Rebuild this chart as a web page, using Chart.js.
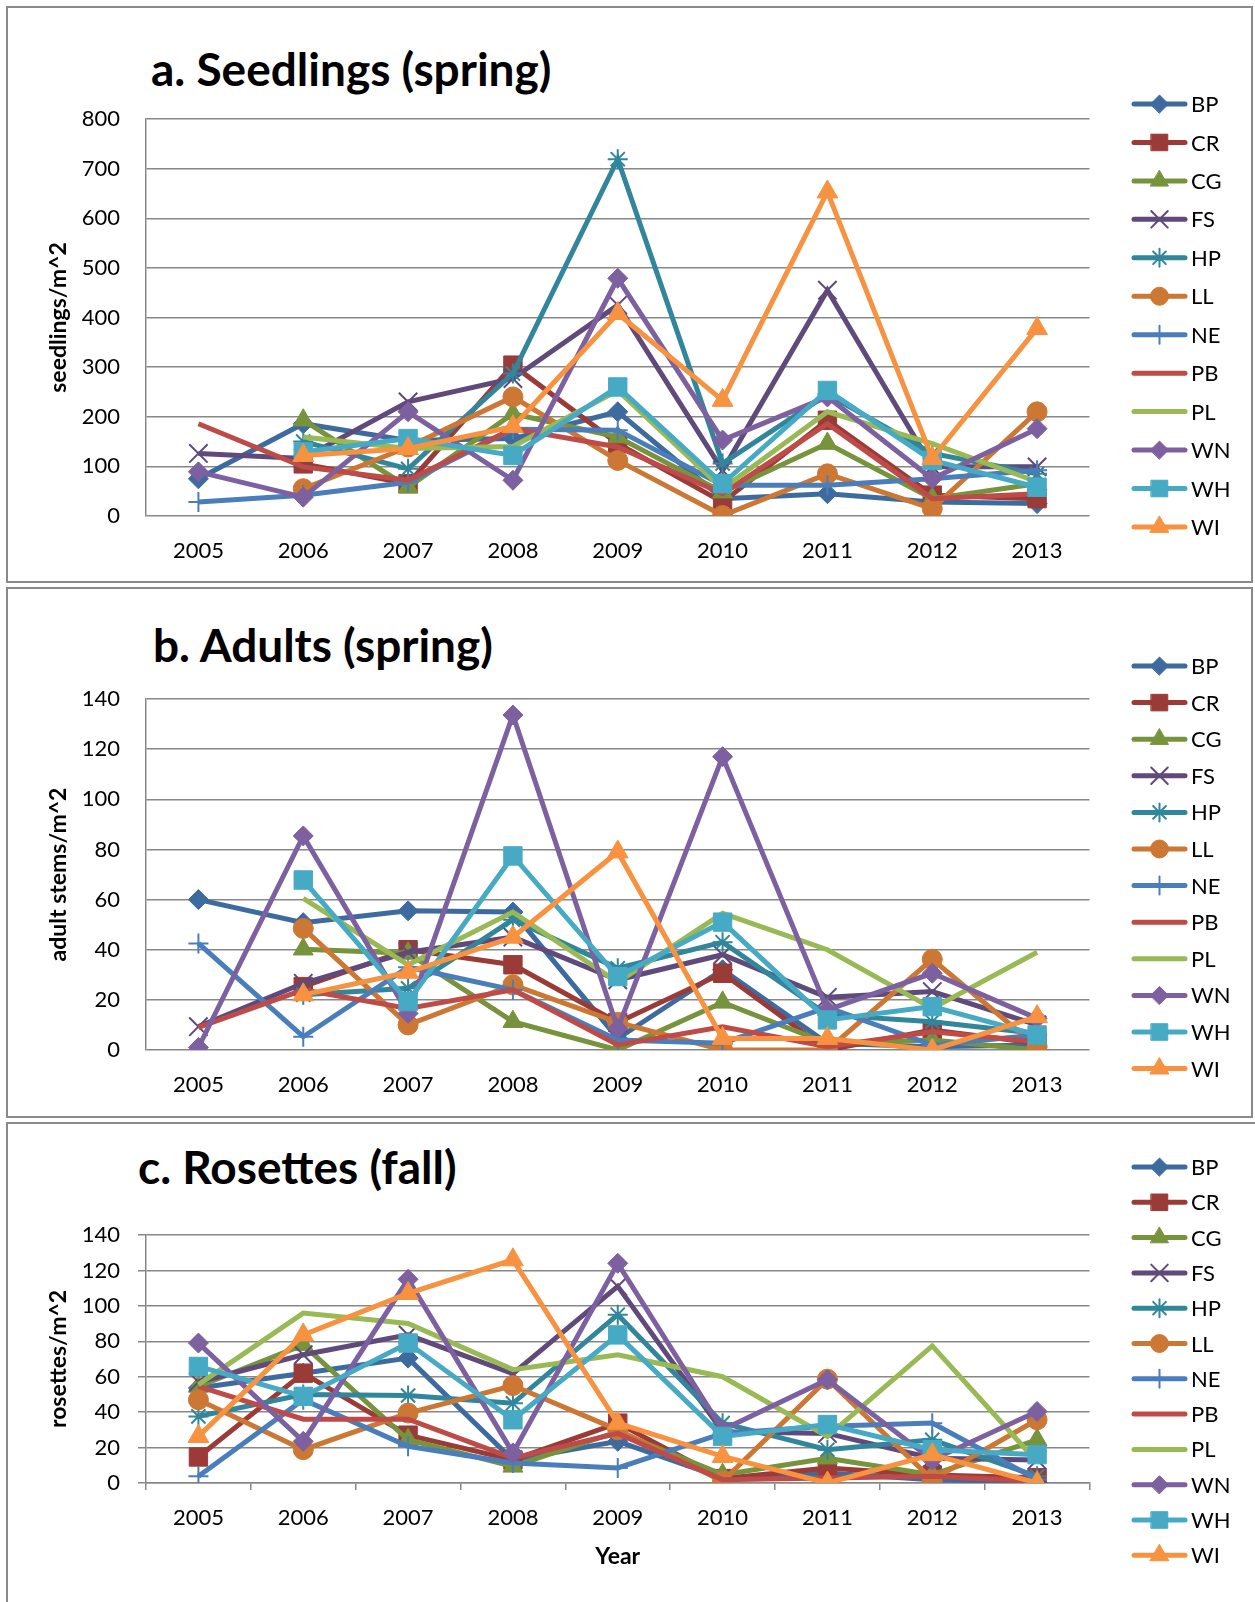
<!DOCTYPE html>
<html>
<head>
<meta charset="utf-8">
<script src="https://cdn.jsdelivr.net/npm/chart.js@4.4.1/dist/chart.umd.min.js"></script>
<style>
  html, body { margin: 0; padding: 0; background: #fff; }
  body { width: 1255px; height: 1602px; position: relative; overflow: hidden; font-family: Lato, "Open Sans", sans-serif; }
  .frame { position: absolute; border: 2px solid #8a8a8a; box-sizing: border-box; }
  .heading { position: absolute; margin: 0; font: 700 46px/46px Lato, sans-serif; color: #000; white-space: nowrap; }
  canvas { position: absolute; left: 0; }
</style>
</head>
<body>
<div class="frame" style="left:6px;top:6px;width:1247px;height:577px"></div>
<div class="frame" style="left:6px;top:587px;width:1247px;height:531px"></div>
<div class="frame" style="left:6px;top:1122px;width:1300px;height:600px"></div>

<h2 class="heading" style="left:151px;top:46px">a. Seedlings (spring)</h2>
<h2 class="heading" style="left:153px;top:622px">b. Adults (spring)</h2>
<h2 class="heading" style="left:138px;top:1144px">c. Rosettes (fall)</h2>

<canvas id="seedChart" width="1255" height="585" style="top:0px"></canvas>
<canvas id="adultChart" width="1255" height="535" style="top:585px"></canvas>
<canvas id="rosetteChart" width="1255" height="482" style="top:1120px"></canvas>

<script>
// Survey years and sites
const years = ['2005', '2006', '2007', '2008', '2009', '2010', '2011', '2012', '2013'];
const sites = ['BP', 'CR', 'CG', 'FS', 'HP', 'LL', 'NE', 'PB', 'PL', 'WN', 'WH', 'WI'];

// a. Seedlings (spring), seedlings/m^2
const seedBP = [75, 186, 152, 156, 210, 35, 45, 28, 25];
const seedCR = [null, 105, 65, 304, 146, 28, 193, 42, 35];
const seedCG = [null, 193, 58, 206, 159, 48, 146, 35, 65];
const seedFS = [126, 116, 230, 277, 425, 92, 455, 99, 99];
const seedHP = [null, 150, 95, 287, 719, 106, 245, 126, 85];
const seedLL = [null, 55, 139, 240, 112, 1, 85, 15, 210];
const seedNE = [28, 42, 68, 175, 173, 62, 62, 75, 92];
const seedPB = [186, 99, 72, 176, 139, 45, 186, 35, 45];
const seedPL = [null, 159, 136, 140, 253, 55, 210, 146, 69];
const seedWN = [89, 38, 210, 72, 479, 153, 240, 75, 176];
const seedWH = [null, 129, 156, 122, 260, 65, 253, 112, 58];
const seedWI = [null, 122, 136, 180, 408, 233, 653, 116, 378];

// b. Adults (spring), adult stems/m^2
const adultBP = [60, 50.8, 55.5, 55, 4.6, 32, 2.7, 1.3, 2];
const adultCR = [null, 25.3, 40, 34, 11, 30.6, 0, 8, 2.7];
const adultCG = [null, 40.2, 38.6, 11.3, 0, 19, 2.7, 4, 0];
const adultFS = [9.3, 26.6, 39, 45, 28, 38, 21, 23.3, 10];
const adultHP = [null, 22, 24.6, 52, 32.6, 43, 14, 11.3, 6.6];
const adultLL = [null, 48.5, 10, 26, 11, 0, 0, 36.2, 1.3];
const adultNE = [42.5, 5.3, 33, 24, 4, 2.7, 17, 2, 6];
const adultPB = [9, 24, 16.6, 24, 2, 9.3, 1.3, 7.3, 3.3];
const adultPL = [null, 60.5, 34, 55, 27, 54.5, 40, 16.6, 39];
const adultWN = [1, 85.4, 14.6, 133.6, 8.6, 117, 16, 30.6, 12.6];
const adultWH = [null, 67.8, 19.3, 77.4, 29.3, 51, 12, 17.3, 6];
const adultWI = [null, 22, 31, 45, 79, 4.6, 4.6, 0, 13.3];

// c. Rosettes (fall), rosettes/m^2
const rosBP = [53.6, 62, 70.5, 13, 23.5, 2.8, 5.6, 1.9, 0.5];
const rosCR = [14.7, 62, 27, 13, 33.8, 2.5, 8.5, 4.5, 3];
const rosCG = [54.5, 78, 24.4, 9.4, 29, 4.7, 14, 4.7, 24.4];
const rosFS = [57, 72.4, 83.6, 61.7, 111, 29, 28, 14, 13];
const rosHP = [37.6, 50, 49.4, 45, 95, 33.8, 18.8, 24.4, 3.8];
const rosLL = [47, 18.8, 39.5, 55, 30, 1, 58.6, 1.9, 35.7];
const rosNE = [3.8, 47, 20.7, 11.3, 8.5, 28, 32, 33.8, 2];
const rosPB = [54.5, 36, 36, 14, 28, 1.9, 2.8, 3.8, 1];
const rosPL = [55.5, 95.9, 90, 64, 72.4, 60, 26.3, 77.4, 12];
const rosWN = [79, 23.5, 115, 17, 124, 30, 58.3, 13, 40.4];
const rosWH = [65.8, 48.9, 79, 35.7, 83.6, 26.3, 33, 18.8, 16];
const rosWI = [26.3, 83.6, 107, 126, 33.8, 15, 0, 16, 0];

// Y-axis tick ranges
const seedTicks = { max: 800, step: 100 };
const adultTicks = { max: 140, step: 20 };
const rosTicks = { max: 140, step: 20 };

// Series styling
const colors = ['#3d6b9f', '#9b3b38', '#77933c', '#5f4a7b', '#31869c', '#cc7733',
                '#4a7ebb', '#be4b48', '#98b954', '#7d60a0', '#46aac5', '#f69240'];
const marks = ['rectRot', 'rect', 'triangle', 'crossRot', 'star', 'circle',
               'cross', false, false, 'rectRot', 'rect', 'triangle'];
const markSize = [10, 13, 11.5, 13, 10, 10, 10, 0, 0, 10, 13, 12];
const gridGrey = '#878787';
const tickFont = { family: 'Lato', size: 22 };
const axisTitleFont = { family: 'Lato', size: 23, weight: 'bold' };

function makeSets(rows) {
  return sites.map((name, i) => ({
    label: name,
    data: rows[i],
    borderColor: colors[i],
    backgroundColor: colors[i],
    pointBackgroundColor: colors[i],
    pointBorderColor: colors[i],
    pointStyle: marks[i],
    pointRadius: marks[i] ? markSize[i] : 0,
    pointHoverRadius: marks[i] ? markSize[i] : 0,
    pointBorderWidth: ['crossRot', 'star', 'cross'].includes(marks[i]) ? 2 : 1,
    borderWidth: 5,
    tension: 0,
    fill: false,
    order: sites.length - i
  }));
}

// Series key drawn at the right side: a short line with the marker and the site code
const sideKey = {
  id: 'sideKey',
  afterDraw(chart, args, opts) {
    const ctx = chart.ctx;
    chart.data.datasets.forEach((ds, i) => {
      const y = opts.top + i * opts.step;
      ctx.save();
      ctx.strokeStyle = ds.borderColor;
      ctx.fillStyle = ds.borderColor;
      ctx.lineWidth = 5;
      ctx.lineCap = 'round';
      ctx.beginPath();
      ctx.moveTo(1134, y);
      ctx.lineTo(1185, y);
      ctx.stroke();
      if (ds.pointStyle) {
        ctx.lineWidth = ds.pointBorderWidth;
        Chart.helpers.drawPoint(ctx, {
          pointStyle: ds.pointStyle,
          radius: ds.pointRadius * 0.9,
          rotation: 0,
          borderWidth: ds.pointBorderWidth
        }, 1159.5, y);
      }
      ctx.fillStyle = '#000';
      ctx.font = '22px Lato';
      ctx.textBaseline = 'middle';
      ctx.textAlign = 'left';
      ctx.fillText(ds.label, 1191, y + 1);
      ctx.restore();
    });
  }
};

const fixY = w => s => { s.width = w; s.paddingTop = 0; s.paddingBottom = 0; };
const fixX = h => s => { s.height = h; s.paddingLeft = 0; s.paddingRight = 0; };

function drawPanel(id, rows, ticks, cfg) {
  new Chart(document.getElementById(id), {
    type: 'line',
    data: { labels: years, datasets: makeSets(rows) },
    options: {
      responsive: false,
      animation: false,
      devicePixelRatio: 1,
      events: [],
      layout: { padding: { left: 0, top: cfg.top, right: 165.5, bottom: cfg.bottom } },
      plugins: {
        legend: { display: false },
        tooltip: { enabled: false },
        sideKey: { top: cfg.keyTop, step: cfg.keyStep }
      },
      scales: {
        x: {
          type: 'category',
          offset: true,
          grid: cfg.xTicks
            ? { display: true, drawOnChartArea: false, drawTicks: true, tickLength: 7, offset: true, color: gridGrey, lineWidth: 1.5 }
            : { display: false },
          border: { display: !!cfg.xTicks, color: gridGrey, width: 1.5 },
          ticks: { color: '#000', font: tickFont, padding: cfg.xPad, maxRotation: 0, autoSkip: false },
          title: cfg.xTitle
            ? { display: true, text: cfg.xTitle, color: '#000', font: axisTitleFont, padding: { top: 0, bottom: 18 } }
            : { display: false },
          afterFit: fixX(cfg.xH)
        },
        y: {
          min: 0,
          max: ticks.max,
          ticks: { stepSize: ticks.step, color: '#000', font: tickFont, padding: cfg.yTicks ? 18 : 26 },
          grid: { color: gridGrey, lineWidth: 1.5, drawTicks: !!cfg.yTicks, tickLength: 8 },
          border: { display: true, color: gridGrey, width: 1.5 },
          title: { display: true, text: cfg.yTitle, color: '#000', font: axisTitleFont, padding: { top: 45, bottom: 0 } },
          afterFit: fixY(146)
        }
      }
    },
    plugins: [sideKey]
  });
}

drawPanel('seedChart',
  [seedBP, seedCR, seedCG, seedFS, seedHP, seedLL, seedNE, seedPB, seedPL, seedWN, seedWH, seedWI],
  seedTicks,
  { top: 119, bottom: 9, xH: 60, xPad: 14, keyTop: 104, keyStep: 38.45, yTitle: 'seedlings/m^2' });

drawPanel('adultChart',
  [adultBP, adultCR, adultCG, adultFS, adultHP, adultLL, adultNE, adultPB, adultPL, adultWN, adultWH, adultWI],
  adultTicks,
  { top: 114, bottom: 10, xH: 60, xPad: 14, keyTop: 81, keyStep: 36.6, yTitle: 'adult stems/m^2' });

drawPanel('rosetteChart',
  [rosBP, rosCR, rosCG, rosFS, rosHP, rosLL, rosNE, rosPB, rosPL, rosWN, rosWH, rosWI],
  rosTicks,
  { top: 115, bottom: 14, xH: 105, xPad: 15, keyTop: 47, keyStep: 35.3, yTitle: 'rosettes/m^2',
    xTicks: true, yTicks: true, xTitle: 'Year' });
</script>
</body>
</html>
